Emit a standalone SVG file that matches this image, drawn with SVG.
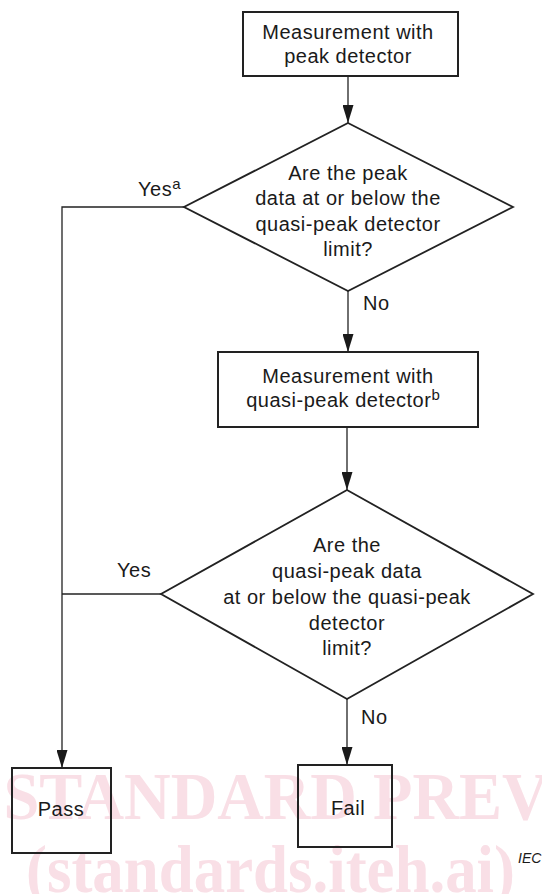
<svg xmlns="http://www.w3.org/2000/svg" width="542" height="894" viewBox="0 0 542 894">
<style>
.t{font-family:"Liberation Sans",Arial,sans-serif;font-size:20px;fill:#1a1a1a;letter-spacing:0.5px;text-anchor:middle}
.ts{font-family:"Liberation Sans",Arial,sans-serif;font-size:20px;fill:#1a1a1a;letter-spacing:0.5px}
.sup{font-size:15px;letter-spacing:0}
.box{fill:none;stroke:#222;stroke-width:2}
.dia{fill:none;stroke:#222;stroke-width:1.8;stroke-linejoin:miter}
.con{fill:none;stroke:#222;stroke-width:1.3}
.wm{font-family:"Liberation Serif","Times New Roman",serif;font-weight:bold;font-size:68px;fill:#f9dfe6}
</style>
<defs>
<marker id="arr" markerUnits="userSpaceOnUse" markerWidth="18" markerHeight="11" refX="18" refY="5.5" orient="auto" viewBox="0 0 18 11">
<path d="M0,0 L18,5.5 L0,11 z" fill="#1a1a1a"/>
</marker>
</defs>
<g id="watermark">
<text class="wm" x="3.5" y="819" textLength="545" lengthAdjust="spacingAndGlyphs">STANDARD PREV</text>
<text class="wm" x="26" y="892" textLength="489" lengthAdjust="spacingAndGlyphs">(standards.iteh.ai)</text>
</g>
<g id="connectors">
<line class="con" x1="348" y1="76" x2="348" y2="123" marker-end="url(#arr)"/>
<line class="con" x1="348" y1="291" x2="348" y2="352" marker-end="url(#arr)"/>
<line class="con" x1="347" y1="427" x2="347" y2="490" marker-end="url(#arr)"/>
<line class="con" x1="347" y1="699" x2="347" y2="765" marker-end="url(#arr)"/>
<polyline class="con" points="184,207 62,207 62,768" marker-end="url(#arr)"/>
<line class="con" x1="161" y1="594" x2="62" y2="594"/>
<text class="ts" x="138" y="196">Yes<tspan class="sup" dy="-7">a</tspan></text>
<text class="ts" x="363" y="310">No</text>
<text class="ts" x="117" y="577">Yes</text>
<text class="ts" x="361" y="724">No</text>
</g>
<g id="start">
<rect class="box" x="243" y="12" width="215" height="64"/>
<text class="t" x="348" y="39">Measurement with</text>
<text class="t" x="348" y="63">peak detector</text>
</g>
<g id="decision1">
<polygon class="dia" points="348,123 513,207 348,291 184,207"/>
<text class="t" x="348" y="180">Are the peak</text>
<text class="t" x="348" y="205">data at or below the</text>
<text class="t" x="348" y="230.5">quasi-peak detector</text>
<text class="t" x="348" y="256">limit?</text>
</g>
<g id="qpmeasure">
<rect class="box" x="218" y="352" width="260" height="75"/>
<text class="t" x="348" y="383">Measurement with</text>
<text class="t" x="343" y="407">quasi-peak detector<tspan class="sup" dy="-7">b</tspan></text>
</g>
<g id="decision2">
<polygon class="dia" points="347,490 533,594 347,699 161,594"/>
<text class="t" x="347" y="552">Are the</text>
<text class="t" x="347" y="578">quasi-peak data</text>
<text class="t" x="347" y="604">at or below the quasi-peak</text>
<text class="t" x="347" y="630">detector</text>
<text class="t" x="347" y="655">limit?</text>
</g>
<g id="pass">
<rect class="box" x="12" y="768" width="99" height="85"/>
<text class="t" x="61" y="816">Pass</text>
</g>
<g id="fail">
<rect class="box" x="298" y="765" width="94" height="82"/>
<text class="t" x="348" y="815">Fail</text>
</g>
<text x="518" y="863" style="font-family:'Liberation Sans',Arial,sans-serif;font-size:14px;font-style:italic;fill:#1a1a1a">IEC</text>
</svg>
